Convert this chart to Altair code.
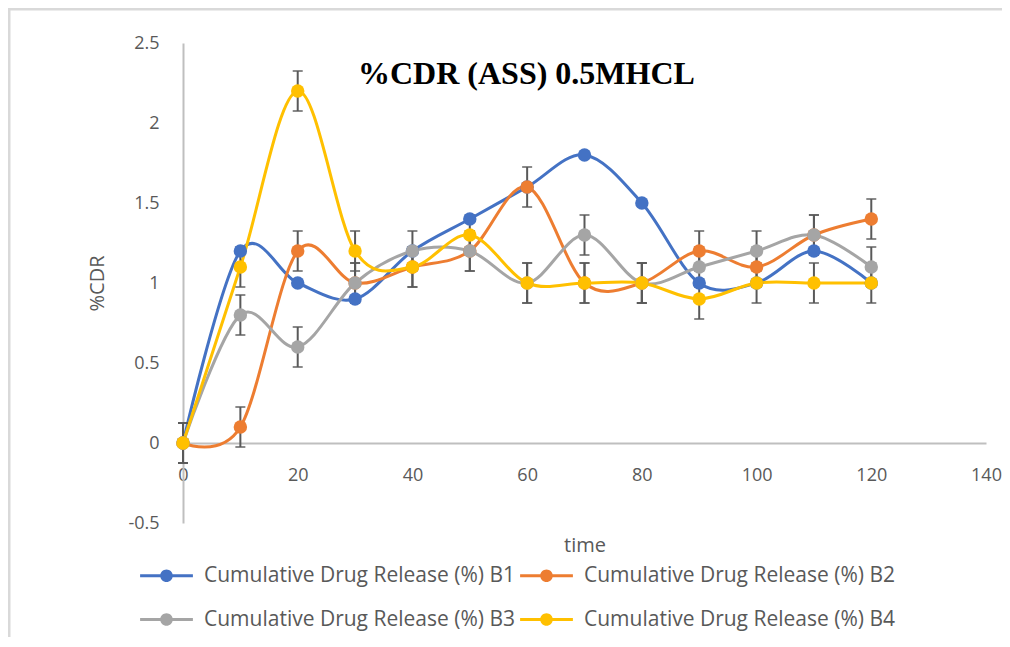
import altair as alt
import pandas as pd

# ---- data ----
time = [0, 10, 20, 30, 40, 50, 60, 70, 80, 90, 100, 110, 120]
b1 = [0, 1.2, 1.0, 0.9, 1.2, 1.4, 1.6, 1.8, 1.5, 1.0, 1.0, 1.2, 1.0]
b2 = [0, 0.1, 1.2, 1.0, 1.1, 1.2, 1.6, 1.0, 1.0, 1.2, 1.1, 1.3, 1.4]
b3 = [0, 0.8, 0.6, 1.0, 1.2, 1.2, 1.0, 1.3, 1.0, 1.1, 1.2, 1.3, 1.1]
b4 = [0, 1.1, 2.2, 1.2, 1.1, 1.3, 1.0, 1.0, 1.0, 0.9, 1.0, 1.0, 1.0]
# error bar half-widths (series B1 shows none)
err_b2 = [0.125] * 13
err_b3 = [0.125] * 13
err_b4 = [0.125] * 13

names = ["Cumulative Drug Release (%) B1", "Cumulative Drug Release (%) B2",
         "Cumulative Drug Release (%) B3", "Cumulative Drug Release (%) B4"]
colors = ["#4472C4", "#ED7D31", "#A5A5A5", "#FFC000"]
y_ticks = [-0.5, 0, 0.5, 1, 1.5, 2, 2.5]
x_ticks = [0, 20, 40, 60, 80, 100, 120, 140]
title_text = "%CDR (ASS) 0.5MHCL"

rows = []
for i, (name, vals) in enumerate(zip(names, [b1, b2, b3, b4])):
    for t, v in zip(time, vals):
        rows.append({"time": t, "cdr": v, "series": name, "order": i})
df = pd.DataFrame(rows)

erows = []
for i, (name, vals, errs) in enumerate(zip(names[1:], [b2, b3, b4], [err_b2, err_b3, err_b4])):
    for t, v, e in zip(time, vals, errs):
        erows.append({"time": t, "lo": v - e, "hi": v + e, "series": name})
edf = pd.DataFrame(erows)

FONT = "Open Sans"
GRAY = "#595959"
AXIS = "#BFBFBF"
FRAME = "#D9D9D9"

x = alt.X("time:Q", scale=alt.Scale(domain=[0, 140], nice=False, zero=False),
          axis=alt.Axis(values=x_ticks, title="time", offset=-80, grid=False,
                        ticks=False, tickSize=0, domainColor=AXIS, domainWidth=2,
                        labelColor=GRAY, labelFont=FONT, labelFontSize=18,
                        labelPadding=23, labelFlush=False,
                        titleColor=GRAY, titleFont=FONT, titleFontSize=20,
                        titleFontWeight="normal", titlePadding=51))
y = alt.Y("cdr:Q", scale=alt.Scale(domain=[-0.5, 2.5], nice=False, zero=False),
          axis=alt.Axis(values=y_ticks, title="%CDR", grid=False, ticks=False,
                        tickSize=0, domainColor=AXIS, domainWidth=2,
                        labelExpr="'' + datum.value",
                        labelColor=GRAY, labelFont=FONT, labelFontSize=18,
                        labelPadding=24, labelFlush=False,
                        titleColor=GRAY, titleFont=FONT, titleFontSize=20,
                        titleFontWeight="normal", titlePadding=20))

legend = alt.Legend(title=None, orient="none", legendX=-33, legendY=516,
                    direction="horizontal",
                    columns=2, columnPadding=4, rowPadding=17,
                    symbolType="M-1.6,-0.09L1.6,-0.09L1.6,0.09L-1.6,0.09Z"
                               "M-0.38,0A0.38,0.38,0,1,1,0.38,0A0.38,0.38,0,1,1,-0.38,0Z",
                    symbolSize=1089, symbolStrokeWidth=0, symbolOpacity=1,
                    labelFont=FONT, labelFontSize=21, labelColor=GRAY,
                    labelOffset=21, labelLimit=600, padding=0)

color = alt.Color("series:N", scale=alt.Scale(domain=names, range=colors), legend=legend)

err_rule = alt.Chart(edf).mark_rule(color="#595959", strokeWidth=2).encode(
    x="time:Q", y="lo:Q", y2="hi:Q")
err_lo = alt.Chart(edf).mark_tick(color="#595959", thickness=2, size=10,
                                  orient="horizontal").encode(x="time:Q", y="lo:Q")
err_hi = alt.Chart(edf).mark_tick(color="#595959", thickness=2, size=10,
                                  orient="horizontal").encode(x="time:Q", y="hi:Q")

lines = alt.Chart(df).mark_line(interpolate="cardinal", strokeWidth=3).encode(
    x=x, y=y, color=color, detail="series:N", order="time:Q")
points = alt.Chart(df).mark_point(filled=True, size=180, opacity=1).encode(
    x=x, y=y, color=color, order="order:Q")

# chart title drawn inside the plot area, as in the reference
title = alt.Chart().mark_text(font="Liberation Serif", fontSize=32, fontWeight="bold",
                              color="#000000", align="left", baseline="alphabetic").encode(
    x=alt.value(175), y=alt.value(41), text=alt.value(title_text))

# chart-area frame (top and left edges, as in the cropped reference)
frame_top = alt.Chart().mark_rule(color=FRAME, strokeWidth=3).encode(
    x=alt.value(-175), x2=alt.value(830), y=alt.value(-34))
frame_left = alt.Chart().mark_rule(color=FRAME, strokeWidth=3).encode(
    x=alt.value(-174), y=alt.value(-34), y2=alt.value(600))

chart = alt.layer(frame_top, frame_left, lines, err_rule, err_lo, err_hi, points, title).properties(
    width=803, height=480,
    autosize=alt.AutoSizeParams(type="none"),
    padding={"left": 175, "top": 35, "right": 16, "bottom": 114},
).configure(background="white").configure_view(stroke=None, strokeWidth=0)

chart.save("out.html", embed_options={"renderer": "svg", "actions": False})
